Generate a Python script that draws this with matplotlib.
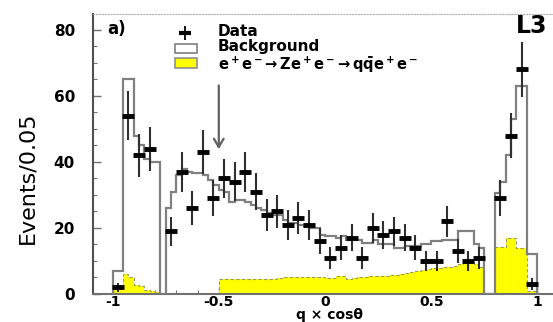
import numpy as np
import matplotlib
matplotlib.use("Agg")
import matplotlib.pyplot as plt
from matplotlib.patches import Rectangle
from matplotlib.ticker import MultipleLocator

plt.rcParams['font.family'] = ['DejaVu Sans']
plt.rcParams['mathtext.fontset'] = 'dejavusans'

# MC histograms, 0.025 wide bins from -1 to 1
mc_edges = np.linspace(-1, 1, 81)
background = [7, 7, 65, 65, 48, 45, 41, 40, 40, 0,
              26, 31, 36, 38, 37, 36.5, 36.5, 36, 34.5, 33,
              31.5, 31, 28, 28.5, 28.5, 28, 27, 26, 25.5, 24.5,
              24, 24, 22.5, 21.5, 21.5, 21, 20.5, 20, 20, 18,
              17.5, 17.5, 17, 17.5, 16.5, 16.5, 16.5, 15.5, 15.5, 16.5,
              15, 15, 15, 14, 14, 14.5, 14.5, 14.5, 15, 15,
              16, 16, 16.5, 16.5, 16.5, 19, 19, 19, 15, 14,
              0, 0, 30.5, 34, 42, 53, 63, 63, 12, 12]
signal = [1.5, 2.2, 6, 5, 2.7, 2.5, 1.2, 1, 0.5, 0,
          0, 0, 0, 0, 0, 0, 0, 0, 0, 0,
          4.4, 4.4, 4.4, 4.4, 4.5, 4.5, 4.5, 4.5, 4.6, 4.6,
          4.6, 4.8, 5.2, 5.2, 5.2, 5.1, 5.0, 5.0, 5.0, 5.0,
          4.8, 4.8, 5.4, 5.4, 4.6, 4.8, 5.2, 5.2, 5.4, 5.4,
          5.4, 5.6, 5.8, 5.9, 6.1, 6.3, 6.8, 7.0, 7.3, 7.5,
          7.8, 7.9, 8.1, 8.3, 8.6, 9.0, 9.3, 10.3, 9.0, 8.3,
          0, 0, 14.3, 14.3, 17, 17, 14, 14, 1, 1]

# data, 0.05 wide bins
data_centers = np.linspace(-0.975, 0.975, 40)
data = [2, 54, 42, 44, np.nan, 19, 37, 26, 43, 29,
        35, 34, 37, 31, 24, 25, 21, 23, 21, 16,
        11, 14, 17, 11, 20, 18, 19, 17, 14, 10,
        10, 22, 13, 10, 11, np.nan, 29, 48, 68, 3]

xticks = [-1, -0.5, 0, 0.5, 1]
xtick_labels = ['-1', '-0.5', '0', '0.5', '1']
yticks = [0, 20, 40, 60, 80]
cut_x = -0.5
cut_arrow = (64, 43)

fig = plt.figure(figsize=(5.53, 3.22), dpi=100)
ax = fig.add_axes([93 / 553, 28 / 322, 460 / 553, 280 / 322])

ax.stairs(signal, mc_edges, fill=True, facecolor='#ffff00', edgecolor='#ffff00', zorder=2)
ax.stairs(signal, mc_edges, color='#9a9a60', lw=0.8, ls=(0, (3, 2)), zorder=2.5)
ax.stairs(background, mc_edges, color='#808080', lw=1.6, zorder=3)

data = np.array(data, dtype=float)
ax.errorbar(data_centers, data, yerr=np.sqrt(data), fmt='_', ms=9, mew=3.5,
            color='black', ecolor='#303030', elinewidth=1.5, capsize=0, zorder=5)

ax.annotate('', xy=(cut_x, cut_arrow[1]), xytext=(cut_x, cut_arrow[0]),
            arrowprops=dict(arrowstyle='->, head_length=0.6, head_width=0.35',
                            color='#606060', lw=1.6), zorder=4)

ax.set_xlim(-1.092, 1.073)
ax.set_ylim(0, 84.8)
ax.set_xticks(xticks)
ax.set_xticklabels(xtick_labels)
ax.set_yticks(yticks)
ax.xaxis.set_minor_locator(MultipleLocator(0.1))
ax.yaxis.set_minor_locator(MultipleLocator(5))
ax.tick_params(which='both', direction='in', color='#707070', top=False, right=False)
ax.tick_params(which='major', length=6, width=1)
ax.tick_params(which='minor', length=3, width=0.8)
ax.tick_params(axis='x', labelsize=10, pad=1)
ax.tick_params(axis='y', labelsize=11, pad=13)
for lab in ax.get_xticklabels() + ax.get_yticklabels():
    lab.set_fontweight('bold')

ax.spines['right'].set_visible(False)
ax.spines['top'].set_color('#b0b0b0')
ax.spines['top'].set_linestyle(':')
ax.spines['left'].set_color('#505050')
ax.spines['left'].set_linewidth(1.5)
ax.spines['bottom'].set_color('#707070')
ax.spines['bottom'].set_linewidth(1.5)

ax.text(0.515, -0.089, 'q × cosθ', transform=ax.transAxes,
        ha='center', va='baseline', fontsize=10, fontweight='bold')
ax.text(-0.143, 0.414, 'Events/0.05', transform=ax.transAxes, rotation=90,
        ha='center', va='center', fontsize=16)

ax.text(0.03, 0.946, 'a)', transform=ax.transAxes, ha='left', va='center',
        fontsize=12, fontweight='bold')
ax.text(0.987, 0.957, 'L3', transform=ax.transAxes, ha='right', va='center',
        fontsize=17, fontweight='bold')

# legend
ax.plot([0.2], [0.932], marker='_', ms=8, mew=3, color='black', transform=ax.transAxes)
ax.plot([0.2], [0.932], marker='|', ms=10, mew=1.3, color='black', transform=ax.transAxes)
ax.add_patch(Rectangle((0.178, 0.861), 0.048, 0.032, transform=ax.transAxes,
                       facecolor='white', edgecolor='#808080', lw=1.2))
ax.add_patch(Rectangle((0.178, 0.807), 0.048, 0.036, transform=ax.transAxes,
                       facecolor='#ffff00', edgecolor='#909090', lw=1.2))
ax.text(0.272, 0.936, 'Data', transform=ax.transAxes, ha='left', va='center',
        fontsize=11, fontweight='bold')
ax.text(0.272, 0.883, 'Background', transform=ax.transAxes, ha='left', va='center',
        fontsize=11, fontweight='bold')
ax.text(0.272, 0.818, r'$\mathbf{e^+e^-\!\rightarrow Ze^+e^-\!\rightarrow q\bar{q}e^+e^-}$',
        transform=ax.transAxes, ha='left', va='center', fontsize=10.5)

fig.savefig('out.png', dpi=100)
